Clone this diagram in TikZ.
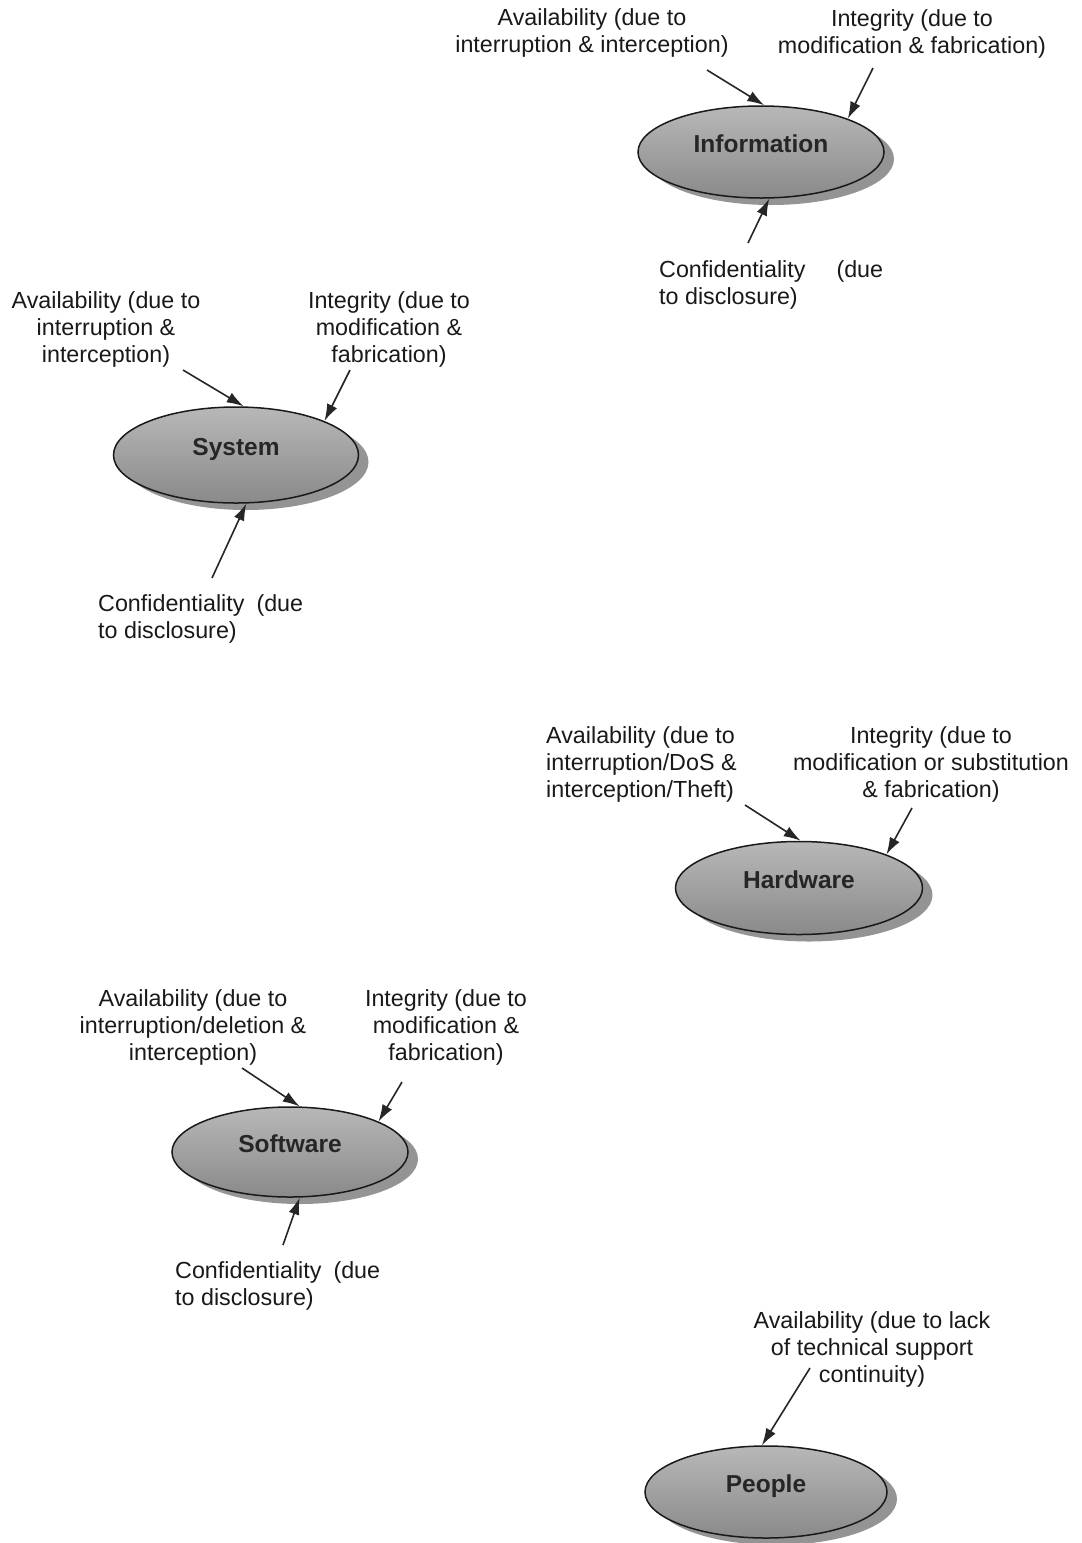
\documentclass[tikz,border=0pt]{standalone}
\usepackage{fontspec}
\setmainfont{Liberation Sans}
\usetikzlibrary{arrows.meta,shapes.geometric}

% An asset: a shaded ellipse over its offset shadow, with a bold caption
% set a little above the centre
% name, x, y, width, height, caption
\newcommand\assetnode[6]{%
  \node[assetshadow, minimum width=#4pt, minimum height=#5pt] (#1-shadow) at (#2+10,#3+7) {};
  \node[asset, minimum width=#4pt, minimum height=#5pt] (#1) at (#2,#3) {\raisebox{0pt}[0pt][0pt]{#6}};
}

\begin{document}
\begin{tikzpicture}[x=1pt,y=-1pt,
  lbl/.style={inner sep=0pt, font=\fontsize{23.3}{27}\selectfont, text=black!90},
  % multi-line labels are placed by the baseline of their last line
  lblc/.style={lbl, align=center, anchor=base},
  lbll/.style={lbl, align=left, anchor=base west},
  asset/.style={ellipse, draw=black!90, line width=1.5pt, inner sep=0pt,
    shading=axis, top color=black!28, bottom color=black!46,
    font=\fontsize{24.5}{28}\selectfont\bfseries, text=black!85},
  assetshadow/.style={ellipse, inner sep=0pt, fill=black!42},
  arr/.style={-{Latex[length=17pt,width=11pt]}, line width=1.6pt, draw=black!85}
]
\path[use as bounding box] (0,0) rectangle (1082,1543);

% ---------- assets ----------
\assetnode{info}{761}{152}{246}{92}{Information}
\assetnode{sys}{236}{455}{245}{96}{System}
\assetnode{hw}{799}{888}{247}{93}{Hardware}
\assetnode{sw}{290}{1152}{236}{90}{Software}
\assetnode{ppl}{766}{1492}{242}{92}{People}

% ---------- Information ----------
\node[lblc] (infoA) at (592,52.5) {Availability (due to\\interruption \& interception)};
\node[lblc] (infoI) at (912,53.5) {Integrity (due to\\modification \& fabrication)};
\node[lbll] (infoC) at (659,304.5) {Confidentiality\hspace{31pt}(due\\to disclosure)};
\coordinate (infoAe) at (707,70);
\coordinate (infoIe) at (873,68);
\coordinate (infoCe) at (748,243);
\draw[arr] (infoAe) -- (info.86);
\draw[arr] (infoIe) -- (info.21);
\draw[arr] (infoCe) -- (info.-80);

% ---------- System ----------
\node[lblc] (sysA) at (106,362.5) {Availability (due to\\interruption \&\\interception)};
\node[lblc] (sysI) at (389,362.5) {Integrity (due to\\modification \&\\fabrication)};
\node[lbll] (sysC) at (98,638.5) {Confidentiality\hspace{12pt}(due\\to disclosure)};
\coordinate (sysAe) at (183,370);
\coordinate (sysIe) at (350,370);
\coordinate (sysCe) at (212,578);
\draw[arr] (sysAe) -- (sys.81);
\draw[arr] (sysIe) -- (sys.21);
\draw[arr] (sysCe) -- (sys.-78);

% ---------- Hardware ----------
\node[lbll] (hwA) at (546,797.5) {Availability (due to\\interruption/DoS \&\\interception/Theft)};
\node[lblc] (hwI) at (931,797.5) {Integrity (due to\\modification or substitution\\\& fabrication)};
\coordinate (hwAe) at (745,805);
\coordinate (hwIe) at (912,808);
\draw[arr] (hwAe) -- (hw.88);
\draw[arr] (hwIe) -- (hw.21);

% ---------- Software ----------
\node[lblc] (swA) at (193,1060.5) {Availability (due to\\interruption/deletion \&\\interception)};
\node[lblc] (swI) at (446,1060.5) {Integrity (due to\\modification \&\\fabrication)};
\node[lbll] (swC) at (175,1305.5) {Confidentiality\hspace{12pt}(due\\to disclosure)};
\coordinate (swAe) at (242,1068);
\coordinate (swIe) at (402,1082);
\coordinate (swCe) at (283,1245);
\draw[arr] (swAe) -- (sw.78);
\draw[arr] (swIe) -- (sw.19);
\draw[arr] (swCe) -- (sw.-78);

% ---------- People ----------
\node[lblc] (pplA) at (872,1382.5) {Availability (due to lack\\of technical support\\continuity)};
\coordinate (pplAe) at (810,1368);
\draw[arr] (pplAe) -- (ppl.95);
\end{tikzpicture}
\end{document}
